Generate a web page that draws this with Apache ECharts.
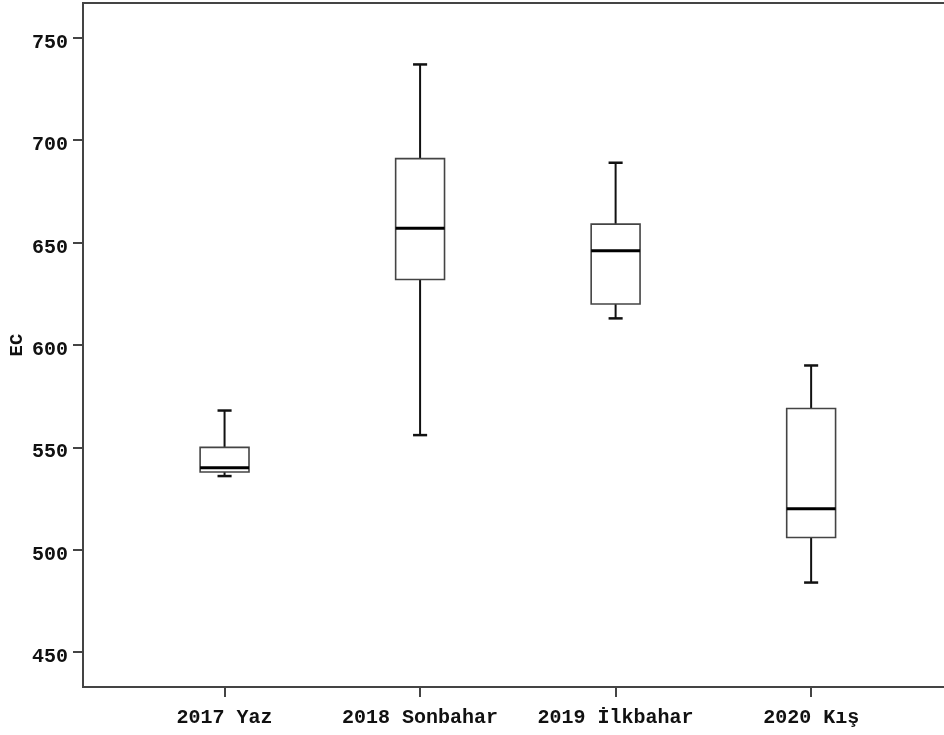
<!DOCTYPE html>
<html>
<head>
<meta charset="utf-8">
<script src="https://cdn.jsdelivr.net/npm/echarts@6/dist/echarts.min.js"></script>
<style>
    html, body { margin: 0; padding: 0; background: #fff; }
    #main { width: 944px; height: 735px; }
</style>
</head>
<body>
<div id="main"></div>
<script>
// kutu grafik verileri (EC)
const categories = ['2017 Yaz', '2018 Sonbahar', '2019 İlkbahar', '2020 Kış'];
const minValues = [536, 556, 613, 484];
const q1Values = [538, 632, 620, 506];
const medianValues = [540, 657, 646, 520];
const q3Values = [550, 691, 659, 569];
const maxValues = [568, 737, 689, 590];
const yTicks = [450, 500, 550, 600, 650, 700, 750];
const xPositions = [1, 2, 3, 4];

const labelFont = {
    fontFamily: 'Liberation Mono',
    fontWeight: 'bold',
    fontSize: 20,
    color: '#111'
};

const boxData = categories.map((c, i) => [
    xPositions[i], minValues[i], q1Values[i], medianValues[i], q3Values[i], maxValues[i]
]);

function renderBox(params, api) {
    const x = api.value(0);
    const pMin = api.coord([x, api.value(1)]);
    const pQ1 = api.coord([x, api.value(2)]);
    const pMed = api.coord([x, api.value(3)]);
    const pQ3 = api.coord([x, api.value(4)]);
    const pMax = api.coord([x, api.value(5)]);
    const boxW = api.size([0.25, 0])[0];
    const capW = api.size([0.072, 0])[0];
    const cx = pMed[0];
    const whisker = { stroke: '#111', lineWidth: 2 };
    const cap = { stroke: '#111', lineWidth: 2.5 };
    return {
        type: 'group',
        children: [
            { type: 'line', shape: { x1: cx, y1: pMax[1], x2: cx, y2: pQ3[1] }, style: whisker },
            { type: 'line', shape: { x1: cx, y1: pQ1[1], x2: cx, y2: pMin[1] }, style: whisker },
            { type: 'line', shape: { x1: cx - capW / 2, y1: pMax[1], x2: cx + capW / 2, y2: pMax[1] }, style: cap },
            { type: 'line', shape: { x1: cx - capW / 2, y1: pMin[1], x2: cx + capW / 2, y2: pMin[1] }, style: cap },
            {
                type: 'rect',
                shape: { x: cx - boxW / 2, y: pQ3[1], width: boxW, height: pQ1[1] - pQ3[1] },
                style: { fill: '#fff', stroke: '#444', lineWidth: 1.6 }
            },
            { type: 'line', shape: { x1: cx - boxW / 2, y1: pMed[1], x2: cx + boxW / 2, y2: pMed[1] }, style: { stroke: '#000', lineWidth: 3 } }
        ]
    };
}

const chart = echarts.init(document.getElementById('main'));
chart.setOption({
    backgroundColor: '#fff',
    animation: false,
    grid: {
        left: 83,
        top: 3,
        right: -4,
        bottom: 48,
        outerBoundsMode: 'none',
        containLabel: false,
        show: true,
        borderColor: '#444',
        borderWidth: 2,
        backgroundColor: '#fff'
    },
    xAxis: {
        type: 'value',
        min: 0.276,
        max: 4.70,
        splitLine: { show: false },
        axisLine: { show: true, lineStyle: { color: '#444', width: 2 } },
        axisTick: { show: true, length: 10, customValues: xPositions, lineStyle: { color: '#444', width: 2 } },
        axisLabel: {
            customValues: xPositions,
            margin: 21,
            formatter: v => categories[Math.round(v) - 1] || '',
            ...labelFont
        }
    },
    yAxis: {
        type: 'value',
        min: 433,
        max: 767,
        name: 'EC',
        nameLocation: 'middle',
        nameRotate: 90,
        nameGap: 56,
        nameMoveOverlap: false,
        nameTextStyle: { ...labelFont, fontSize: 19 },
        splitLine: { show: false },
        axisLine: { show: true, lineStyle: { color: '#444', width: 2 } },
        axisTick: { show: true, length: 10, customValues: yTicks, lineStyle: { color: '#444', width: 2 } },
        axisLabel: {
            customValues: yTicks,
            margin: 15,
            verticalAlign: 'top',
            lineHeight: 10,
            ...labelFont
        }
    },
    series: [{
        type: 'custom',
        name: 'EC',
        renderItem: renderBox,
        encode: { x: 0, y: [1, 2, 3, 4, 5] },
        data: boxData
    }]
});
</script>
</body>
</html>
